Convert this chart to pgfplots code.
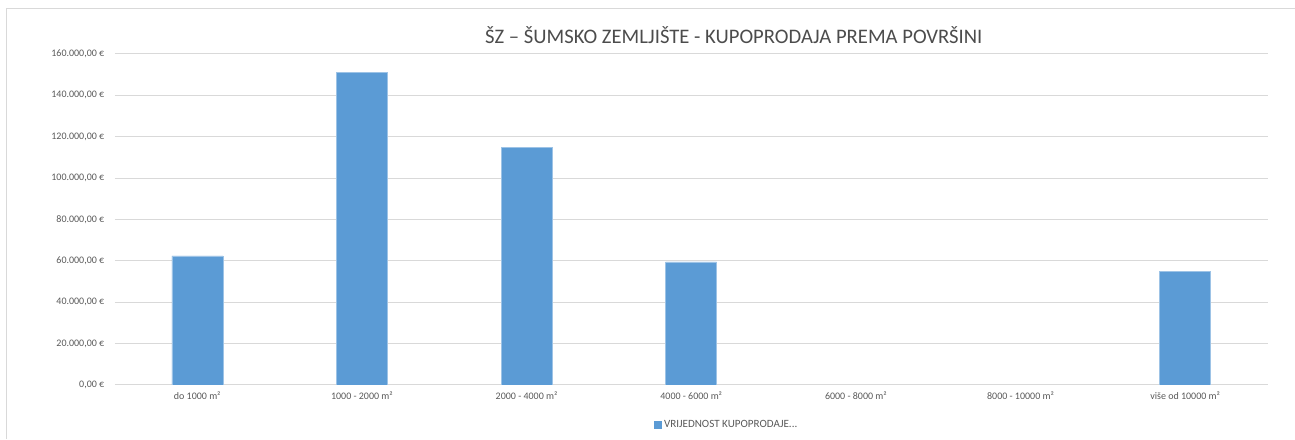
\documentclass[border=0pt]{standalone}
\usepackage{pgfplots}
\pgfplotsset{compat=1.18}
\usepackage{fontspec}
\setmainfont{Carlito}
\definecolor{barblue}{HTML}{5B9BD5}
\definecolor{txtgray}{HTML}{595959}
\definecolor{gridgray}{HTML}{D9D9D9}
\begin{document}
\begin{tikzpicture}[x=0.75pt,y=0.75pt]
\path (0,0) rectangle (1295,439);
\draw[gridgray,line width=0.75pt] (7,0) -- (7,430) -- (1295,430);
\begin{axis}[
  at={(86.25pt,40.5pt)}, anchor=south west,
  scale only axis, width=864.75pt, height=248.25pt,
  ymin=0, ymax=160000, xmin=-0.5, xmax=6.5,
  ybar, bar width=38.25pt,
  axis line style={draw=none},
  ymajorgrids, grid style={gridgray, line width=0.75pt},
  major tick length=0pt,
  xtick={0,1,2,3,4,5,6},
  xticklabels={do 1000 m², 1000 - 2000 m², 2000 - 4000 m², 4000 - 6000 m², 6000 - 8000 m², 8000 - 10000 m², više od 10000 m²},
  ytick={0,20000,40000,60000,80000,100000,120000,140000,160000},
  scaled y ticks=false,
  yticklabel={\pgfmathprintnumber[assume math mode=true,fixed,fixed zerofill,precision=2,use comma,1000 sep={.}]{\tick}~€},
  ticklabel style={font=\fontsize{7.5}{8.5}\selectfont, text=txtgray},
  yticklabel style={xshift=-4.5pt},
  xticklabel style={yshift=-2pt},
  legend style={at={(0.531,-0.121)}, anchor=center, draw=none, fill=none, font=\fontsize{8.3}{9}\selectfont, text=txtgray},
  legend image code/.code={\fill[barblue] (0pt,-2.6pt) rectangle (5.2pt,2.6pt);},
]
\addplot[fill=barblue, draw=barblue!60!white, line width=0.4pt] coordinates {(0,62400) (1,151200) (2,114700) (3,59500) (6,54700)};
\addlegendentry{VRIJEDNOST KUPOPRODAJE...}
\end{axis}
\node[font=\fontsize{15.5}{17}\selectfont, text=txtgray!85!black] at (734,404) {ŠZ – ŠUMSKO ZEMLJIŠTE - KUPOPRODAJA PREMA POVRŠINI};
\end{tikzpicture}
\end{document}
